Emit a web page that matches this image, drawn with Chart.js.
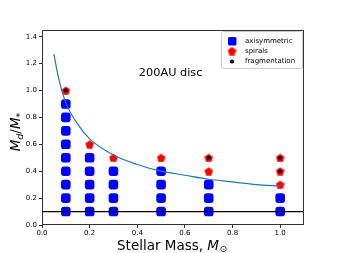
<!DOCTYPE html>
<html>
<head>
<meta charset="utf-8">
<script src="https://cdn.jsdelivr.net/npm/chart.js@4"></script>
<style>
  html, body { margin: 0; padding: 0; background: #fff; }
  #wrap { width: 338px; height: 253px; }
</style>
</head>
<body>
<div id="wrap"><canvas id="discChart" width="338" height="253"></canvas></div>
<script>
// axisymmetric discs (blue squares)
var axiX = [0.1,0.1,0.1,0.1,0.1,0.1,0.1,0.1,0.1, 0.2,0.2,0.2,0.2,0.2, 0.3,0.3,0.3,0.3, 0.5,0.5,0.5,0.5, 0.7,0.7,0.7, 1.0,1.0];
var axiY = [0.1,0.2,0.3,0.4,0.5,0.6,0.7,0.8,0.9, 0.1,0.2,0.3,0.4,0.5, 0.1,0.2,0.3,0.4, 0.1,0.2,0.3,0.4, 0.1,0.2,0.3, 0.1,0.2];
// spirals (red pentagons)
var spiX = [0.1, 0.2, 0.3, 0.5, 0.7, 0.7, 1.0, 1.0, 1.0];
var spiY = [1.0, 0.6, 0.5, 0.5, 0.5, 0.4, 0.5, 0.4, 0.3];
// fragmentation (black dots)
var fragX = [0.1, 0.7, 1.0, 1.0];
var fragY = [1.0, 0.5, 0.5, 0.4];
// boundary curve
var curveX = [0.05, 0.07, 0.1, 0.15, 0.2, 0.3, 0.4, 0.5, 0.6, 0.7, 0.8, 0.9, 1.0];
var curveY = [1.27, 1.09, 0.91, 0.75, 0.64, 0.52, 0.45, 0.40, 0.37, 0.34, 0.32, 0.30, 0.29];
// horizontal reference line
var hlineY = 0.1;
var xTicks = [0.0, 0.2, 0.4, 0.6, 0.8, 1.0];
var yTicks = [0.0, 0.2, 0.4, 0.6, 0.8, 1.0, 1.2, 1.4];

function pts(xs, ys) {
  var out = [];
  for (var i in xs) out.push({x: xs[i], y: ys[i]});
  return out;
}

function pentagon(size, color) {
  var c = document.createElement('canvas');
  c.width = size; c.height = size;
  var g = c.getContext('2d');
  var r = size / 2;
  g.beginPath();
  for (var k = 0; k < 5; k++) {
    var a = -Math.PI / 2 + k * 2 * Math.PI / 5;
    var px = r + r * Math.cos(a), py = r + 0.5 + r * Math.sin(a);
    if (k == 0) g.moveTo(px, py); else g.lineTo(px, py);
  }
  g.closePath();
  g.fillStyle = color;
  g.fill();
  return c;
}
var redPent = pentagon(9, '#ff0000');

var font = "'DejaVu Sans', sans-serif";

var overlay = {
  id: 'overlay',
  afterDraw: function(chart) {
    var ctx = chart.ctx, xs = chart.scales.x, ys = chart.scales.y, a = chart.chartArea;
    ctx.save();
    // frame
    ctx.strokeStyle = '#333';
    ctx.lineWidth = 1;
    ctx.strokeRect(a.left + 0.5, a.top + 0.5, a.right - a.left - 1, a.bottom - a.top - 1);
    // annotation
    ctx.fillStyle = '#000';
    ctx.font = '11.3px ' + font;
    ctx.textAlign = 'center';
    ctx.textBaseline = 'middle';
    ctx.fillText('200AU disc', xs.getPixelForValue(0.54), ys.getPixelForValue(1.13));
    // legend
    var lx = 221, ly = 31, lw = 81, lh = 37;
    ctx.fillStyle = 'rgba(255,255,255,0.8)';
    ctx.strokeStyle = '#ccc';
    ctx.beginPath();
    ctx.roundRect(lx + 0.5, ly + 0.5, lw, lh, 2);
    ctx.fill(); ctx.stroke();
    ctx.fillStyle = '#0000ff';
    ctx.beginPath();
    ctx.roundRect(228, 37, 8.5, 8.5, 1.5);
    ctx.fill();
    ctx.drawImage(redPent, 227.5, 46.5);
    ctx.fillStyle = '#000';
    ctx.beginPath();
    ctx.arc(232, 61.5, 2, 0, 2 * Math.PI);
    ctx.fill();
    ctx.font = '7px ' + font;
    ctx.textAlign = 'left';
    ctx.fillText('axisymmetric', 245, 41);
    ctx.fillText('spirals', 245, 51);
    ctx.fillText('fragmentation', 245, 61.5);
    // axis titles
    ctx.font = '13.5px ' + font;
    ctx.textAlign = 'left';
    ctx.textBaseline = 'alphabetic';
    var t1 = 'Stellar Mass, ';
    var w1 = ctx.measureText(t1).width;
    ctx.font = 'italic 13.5px ' + font;
    var w2 = ctx.measureText('M').width;
    ctx.font = '9.5px ' + font;
    var w3 = ctx.measureText('\u2299').width;
    var sx = 172 - (w1 + w2 + w3) / 2;
    var by = 250;
    ctx.font = '13.5px ' + font;
    ctx.fillText(t1, sx, by);
    ctx.font = 'italic 13.5px ' + font;
    ctx.fillText('M', sx + w1, by);
    ctx.font = '9.5px ' + font;
    ctx.fillText('\u2299', sx + w1 + w2 + 0.5, by + 2);
    // y title
    ctx.translate(20, 132);
    ctx.rotate(-Math.PI / 2);
    var parts = [['M', 'italic 13.5px', 0], ['d', 'italic 9.5px', 2.5], ['/', '13.5px', 0], ['M', 'italic 13.5px', 0], ['*', '9.5px', 2.5]];
    var tot = 0;
    parts.forEach(function(p) { ctx.font = p[1] + ' ' + font; tot += ctx.measureText(p[0]).width; });
    var cx = -tot / 2;
    parts.forEach(function(p) {
      ctx.font = p[1] + ' ' + font;
      ctx.fillText(p[0], cx, p[2]);
      cx += ctx.measureText(p[0]).width;
    });
    ctx.restore();
  }
};

var ctx = document.getElementById('discChart');
var discChart = new Chart(ctx, {
  type: 'scatter',
  data: {
    datasets: [
      {
        label: 'fragmentation',
        data: pts(fragX, fragY),
        pointStyle: 'circle',
        pointRadius: 2,
        backgroundColor: '#000',
        borderWidth: 0,
        order: 0
      },
      {
        label: 'boundary',
        type: 'line',
        data: pts(curveX, curveY),
        borderColor: '#1f77b4',
        borderWidth: 1.2,
        pointRadius: 0,
        cubicInterpolationMode: 'monotone',
        fill: false,
        order: 1
      },
      {
        label: 'limit',
        type: 'line',
        data: [{x: 0, y: hlineY}, {x: 1.1, y: hlineY}],
        borderColor: '#000',
        borderWidth: 1.2,
        pointRadius: 0,
        fill: false,
        order: 1
      },
      {
        label: 'spirals',
        data: pts(spiX, spiY),
        pointStyle: redPent,
        order: 2
      },
      {
        label: 'axisymmetric',
        data: pts(axiX, axiY),
        pointStyle: 'rectRounded',
        pointRadius: 5.6,
        backgroundColor: '#0000ff',
        borderWidth: 0,
        order: 3
      }
    ]
  },
  options: {
    responsive: false,
    animation: false,
    layout: { padding: { left: 0, top: 30, right: 34, bottom: 0 } },
    plugins: {
      legend: { display: false },
      tooltip: { enabled: false }
    },
    scales: {
      x: {
        type: 'linear',
        min: 0, max: 1.1,
        afterBuildTicks: function(s) { s.ticks = xTicks.map(function(v) { return {value: v}; }); },
        afterFit: function(s) { s.height = 28; },
        grid: { display: true, drawOnChartArea: false, tickLength: 3, color: '#333' },
        border: { display: false },
        ticks: { color: '#000', font: { family: font, size: 7 }, padding: 1, maxRotation: 0,
          callback: function(v) { return v.toFixed(1); } }
      },
      y: {
        type: 'linear',
        min: 0, max: 1.45,
        afterBuildTicks: function(s) { s.ticks = yTicks.map(function(v) { return {value: v}; }); },
        afterFit: function(s) { s.width = 42; },
        grid: { display: true, drawOnChartArea: false, tickLength: 3, color: '#333' },
        border: { display: false },
        ticks: { color: '#000', font: { family: font, size: 7 }, padding: 2,
          callback: function(v) { return v.toFixed(1); } }
      }
    }
  },
  plugins: [overlay]
});
</script>
</body>
</html>
